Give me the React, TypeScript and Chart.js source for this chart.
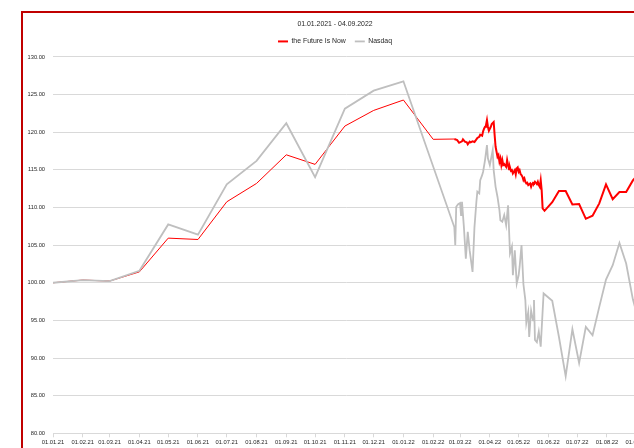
import React, { useEffect, useRef } from 'react';
import { Chart, registerables } from 'chart.js';

Chart.register(...registerables);

const TITLE = '01.01.2021 - 04.09.2022';
const SERIES_NAMES = ['the Future Is Now', 'Nasdaq'];

const monthTickLabels = [
  '01.01.21', '01.02.21', '01.03.21', '01.04.21', '01.05.21', '01.06.21', '01.07.21',
  '01.08.21', '01.09.21', '01.10.21', '01.11.21', '01.12.21', '01.01.22', '01.02.22',
  '01.03.22', '01.04.22', '01.05.22', '01.06.22', '01.07.22', '01.08.22', '01.09.22',
];
const X_START = '01.01.21';
const X_END = '04.09.22';
const Y_MIN = 80;
const Y_MAX = 130;
const Y_STEP = 5;
const THIN_UNTIL = '23.02.22';

const futureDates = [
  '01.01.21', '01.02.21', '01.03.21', '01.04.21', '01.05.21', '01.06.21', '01.07.21',
  '01.08.21', '01.09.21', '01.10.21', '01.11.21', '01.12.21', '01.01.22', '01.02.22',
  '23.02.22', '26.02.22', '28.02.22', '03.03.22', '04.03.22', '06.03.22', '08.03.22',
  '09.03.22', '11.03.22', '12.03.22', '14.03.22', '16.03.22', '18.03.22', '19.03.22',
  '21.03.22', '22.03.22', '24.03.22', '25.03.22', '26.03.22', '27.03.22', '28.03.22',
  '29.03.22', '30.03.22', '31.03.22', '02.04.22', '03.04.22', '05.04.22', '06.04.22',
  '07.04.22', '08.04.22', '09.04.22', '10.04.22', '11.04.22', '12.04.22', '13.04.22',
  '14.04.22', '15.04.22', '16.04.22', '18.04.22', '19.04.22', '20.04.22', '21.04.22',
  '22.04.22', '23.04.22', '24.04.22', '25.04.22', '26.04.22', '27.04.22', '28.04.22',
  '29.04.22', '30.04.22', '01.05.22', '02.05.22', '03.05.22', '04.05.22', '05.05.22',
  '06.05.22', '07.05.22', '08.05.22', '09.05.22', '10.05.22', '11.05.22', '13.05.22',
  '14.05.22', '15.05.22', '16.05.22', '17.05.22', '18.05.22', '19.05.22', '20.05.22',
  '21.05.22', '22.05.22', '23.05.22', '24.05.22', '25.05.22', '26.05.22', '28.05.22',
  '05.06.22', '12.06.22', '19.06.22', '26.06.22', '03.07.22', '10.07.22', '17.07.22',
  '24.07.22', '31.07.22', '07.08.22', '14.08.22', '21.08.22', '28.08.22', '04.09.22',
];
const futureValues = [
  100.0, 100.36, 100.23, 101.45, 105.93, 105.75, 110.76,
  113.2, 117.0, 115.73, 120.82, 122.9, 124.28, 119.06,
  119.1, 118.96, 118.6, 118.79, 119.06, 118.74, 118.65,
  118.39, 118.74, 118.65, 118.79, 118.7, 119.06, 119.23,
  119.4, 119.67, 119.53, 120.12, 120.47, 120.73, 120.96,
  121.62, 120.73, 120.2, 120.73, 121.09, 121.36, 119.63,
  118.07, 117.41, 116.74, 116.97, 116.08, 116.53, 115.64,
  116.3, 115.64, 115.77, 115.41, 116.3, 115.64, 115.07,
  115.33, 114.88, 114.97, 114.53, 114.75, 114.97, 114.4,
  115.2, 115.33, 114.75, 114.97, 114.44, 114.3, 114.08,
  113.64, 113.87, 113.42, 113.2, 113.28, 112.98, 113.2,
  112.75, 113.11, 113.28, 113.2, 113.42, 113.28, 113.11,
  113.42, 112.98, 112.75, 113.64, 112.3, 109.88, 109.56,
  110.7, 112.2, 112.2, 110.4, 110.45, 108.5, 108.9,
  110.55, 113.07, 111.1, 112.05, 112.05, 113.6, 114.6,
];

const nasdaqDates = [
  '01.01.21', '01.02.21', '01.03.21', '01.04.21', '01.05.21', '01.06.21', '01.07.21',
  '01.08.21', '01.09.21', '01.10.21', '01.11.21', '01.12.21', '01.01.22',
  '23.02.22', '24.02.22', '25.02.22', '27.02.22', '01.03.22', '02.03.22', '03.03.22',
  '05.03.22', '07.03.22', '09.03.22', '11.03.22', '14.03.22', '16.03.22', '18.03.22',
  '19.03.22', '21.03.22', '22.03.22', '24.03.22', '25.03.22', '27.03.22', '29.03.22',
  '30.03.22', '01.04.22', '04.04.22', '05.04.22', '07.04.22', '09.04.22', '11.04.22',
  '12.04.22', '14.04.22', '16.04.22', '18.04.22', '20.04.22', '22.04.22', '24.04.22',
  '25.04.22', '27.04.22', '29.04.22', '01.05.22', '02.05.22', '04.05.22', '06.05.22',
  '08.05.22', '09.05.22', '11.05.22', '12.05.22', '14.05.22', '16.05.22', '17.05.22',
  '18.05.22', '20.05.22', '22.05.22', '24.05.22', '27.05.22',
  '05.06.22', '12.06.22', '19.06.22', '26.06.22', '03.07.22', '10.07.22', '17.07.22',
  '24.07.22', '31.07.22', '07.08.22', '14.08.22', '21.08.22', '28.08.22', '04.09.22',
];
const nasdaqValues = [
  100.0, 100.36, 100.23, 101.6, 107.75, 106.4, 113.07,
  116.2, 121.2, 114.04, 123.13, 125.52, 126.77,
  107.4, 105.0, 110.1, 110.45, 110.6, 109.0, 110.76,
  107.4, 103.2, 106.77, 104.3, 101.45, 107.4, 110.76,
  112.1, 111.87, 113.64, 114.3, 114.75, 116.3, 118.3,
  116.53, 115.64, 117.63, 114.97, 112.75, 111.4, 109.65,
  108.3, 108.1, 109.0, 107.66, 110.3, 103.9, 104.8,
  101.0, 104.3, 99.9, 101.0, 102.1, 105.0, 99.8,
  97.7, 94.67, 96.1, 92.8, 96.3, 95.0, 97.7,
  92.4, 92.1, 93.5, 91.5, 98.58,
  97.6, 92.8, 87.58, 93.83, 89.35, 94.14, 93.03,
  96.8, 100.43, 102.34, 105.3, 102.56, 97.8, 94.5,
];

const COLORS = { future: '#FF0000', nasdaq: '#BFBFBF', grid: '#D9D9D9', text: '#262626', frame: '#C00000' };
const FONT = "'Liberation Sans', Arial, sans-serif";

const toDay = (s: string) => {
  const [d, m, y] = s.split('.').map(Number);
  return (Date.UTC(2000 + y, m - 1, d) - Date.UTC(2021, 0, 1)) / 86400000;
};

export default function App() {
  const ref = useRef<HTMLCanvasElement | null>(null);

  useEffect(() => {
    if (!ref.current) return;
    const thinEnd = toDay(THIN_UNTIL);
    const chart = new Chart(ref.current, {
      type: 'line',
      data: {
        datasets: [
          {
            label: SERIES_NAMES[0],
            data: futureDates.map((d, i) => ({ x: toDay(d), y: futureValues[i] })),
            borderColor: COLORS.future,
            backgroundColor: COLORS.future,
            borderWidth: 2,
            pointRadius: 0,
            tension: 0,
            order: 1,
            segment: {
              borderWidth: (ctx: any) => (ctx.p1.parsed.x <= thinEnd ? 1 : 2),
            },
          },
          {
            label: SERIES_NAMES[1],
            data: nasdaqDates.map((d, i) => ({ x: toDay(d), y: nasdaqValues[i] })),
            borderColor: COLORS.nasdaq,
            backgroundColor: COLORS.nasdaq,
            borderWidth: 1.8,
            pointRadius: 0,
            tension: 0,
            order: 0,
          },
        ],
      },
      options: {
        animation: false,
        responsive: false,
        devicePixelRatio: 1,
        layout: { padding: { top: 14, left: 0, right: 10, bottom: 0 } },
        plugins: {
          tooltip: { enabled: false },
          title: {
            display: true,
            text: TITLE,
            color: COLORS.text,
            font: { family: FONT, size: 6.9, weight: 'normal' },
            padding: { top: 6.3, bottom: 0.4 },
          },
          legend: {
            display: true,
            position: 'top',
            labels: {
              usePointStyle: true,
              pointStyle: 'line',
              pointStyleWidth: 10,
              color: COLORS.text,
              font: { family: FONT, size: 6.9 },
              padding: 9,
              sort: (a: any, b: any) => a.datasetIndex - b.datasetIndex,
            },
          },
        },
        scales: {
          x: {
            type: 'linear',
            min: toDay(X_START),
            max: toDay(X_END),
            afterBuildTicks: (scale: any) => {
              scale.ticks = monthTickLabels.map((l) => ({ value: toDay(l) }));
            },
            afterFit: (scale: any) => {
              scale.height = 36.7;
            },
            ticks: {
              autoSkip: false,
              maxRotation: 0,
              minRotation: 0,
              padding: 2,
              color: COLORS.text,
              font: { family: FONT, size: 5.8 },
              callback: (_v: any, i: number) => monthTickLabels[i],
            },
            grid: { drawOnChartArea: false, drawTicks: true, tickLength: 4, color: COLORS.grid },
            border: { display: true, color: COLORS.grid },
          },
          xTop: {
            type: 'linear',
            position: 'top',
            min: toDay(X_START),
            max: toDay(X_END),
            afterFit: (scale: any) => {
              scale.height = 2.1;
            },
            ticks: { display: false },
            grid: { display: false, drawTicks: false },
            border: { display: false },
          },
          y: {
            type: 'linear',
            position: 'left',
            min: Y_MIN,
            max: Y_MAX,
            afterFit: (scale: any) => {
              scale.width = 53;
            },
            ticks: {
              stepSize: Y_STEP,
              padding: 8,
              color: COLORS.text,
              font: { family: FONT, size: 5.7 },
              callback: (v: any) => Number(v).toFixed(2),
            },
            grid: { color: COLORS.grid, drawTicks: false },
            border: { display: false },
          },
          yRight: {
            type: 'linear',
            position: 'right',
            min: Y_MIN,
            max: Y_MAX,
            afterFit: (scale: any) => {
              scale.width = 30.4;
            },
            ticks: { display: false },
            grid: { display: false, drawTicks: false },
            border: { display: false },
          },
        },
      },
    });
    return () => chart.destroy();
  }, []);

  return (
    <div style={{ position: 'fixed', left: 0, top: 0, width: 634, height: 448, overflow: 'hidden', background: '#ffffff' }}>
      <div
        style={{
          position: 'absolute',
          left: 21,
          top: 11,
          width: 640,
          height: 480,
          border: `2px solid ${COLORS.frame}`,
          boxSizing: 'border-box',
        }}
      />
      <canvas ref={ref} width={680} height={470} style={{ position: 'absolute', left: 0, top: 0, width: 680, height: 470 }} />
    </div>
  );
}
